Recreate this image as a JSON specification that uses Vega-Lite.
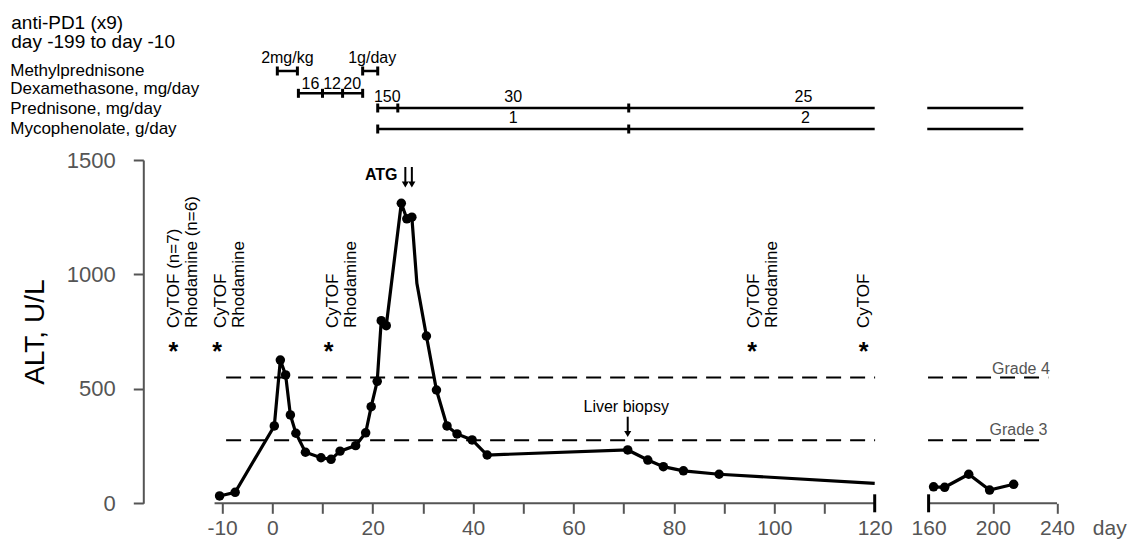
{
  "$schema": "https://vega.github.io/schema/vega-lite/v6.json",
  "width": 920,
  "height": 343.3,
  "autosize": {"type": "none"},
  "padding": {"left": 143.3, "top": 160, "right": 65.7, "bottom": 35.7},
  "background": "white",
  "config": {"view": {"stroke": null}, "font": "Liberation Sans"},
  "datasets": {
    "alt": [
      {"day": -10.5, "alt": 32, "phase": "a", "dot": true},
      {"day": -7.4, "alt": 48, "phase": "a", "dot": true},
      {"day": 0.4, "alt": 338, "phase": "a", "dot": true},
      {"day": 1.6, "alt": 626, "phase": "a", "dot": true},
      {"day": 2.65, "alt": 561, "phase": "a", "dot": true},
      {"day": 3.6, "alt": 386, "phase": "a", "dot": true},
      {"day": 4.7, "alt": 306, "phase": "a", "dot": true},
      {"day": 6.6, "alt": 223, "phase": "a", "dot": true},
      {"day": 9.7, "alt": 199, "phase": "a", "dot": true},
      {"day": 11.7, "alt": 192, "phase": "a", "dot": true},
      {"day": 13.5, "alt": 228, "phase": "a", "dot": true},
      {"day": 16.6, "alt": 252, "phase": "a", "dot": true},
      {"day": 18.6, "alt": 308, "phase": "a", "dot": true},
      {"day": 19.7, "alt": 422, "phase": "a", "dot": true},
      {"day": 20.9, "alt": 533, "phase": "a", "dot": true},
      {"day": 21.7, "alt": 798, "phase": "a", "dot": true},
      {"day": 22.7, "alt": 776, "phase": "a", "dot": true},
      {"day": 25.7, "alt": 1311, "phase": "a", "dot": true},
      {"day": 26.8, "alt": 1243, "phase": "a", "dot": true},
      {"day": 27.8, "alt": 1250, "phase": "a", "dot": true},
      {"day": 28.8, "alt": 961, "phase": "a", "dot": false},
      {"day": 30.7, "alt": 731, "phase": "a", "dot": true},
      {"day": 32.7, "alt": 495, "phase": "a", "dot": true},
      {"day": 34.8, "alt": 338, "phase": "a", "dot": true},
      {"day": 36.8, "alt": 303, "phase": "a", "dot": true},
      {"day": 39.8, "alt": 277, "phase": "a", "dot": true},
      {"day": 42.8, "alt": 211, "phase": "a", "dot": true},
      {"day": 70.8, "alt": 233, "phase": "a", "dot": true},
      {"day": 74.8, "alt": 189, "phase": "a", "dot": true},
      {"day": 77.9, "alt": 160, "phase": "a", "dot": true},
      {"day": 81.9, "alt": 142, "phase": "a", "dot": true},
      {"day": 89.0, "alt": 127, "phase": "a", "dot": true},
      {"day": 120, "alt": 87, "phase": "a", "dot": false},
      {"day": 163.1, "alt": 72, "phase": "b", "dot": true},
      {"day": 170, "alt": 70, "phase": "b", "dot": true},
      {"day": 185, "alt": 127, "phase": "b", "dot": true},
      {"day": 198, "alt": 58, "phase": "b", "dot": true},
      {"day": 213, "alt": 83, "phase": "b", "dot": true}
    ],
    "grades": [
      {"day": -9.2, "day2": 120.3, "alt": 550},
      {"day": 159.6, "day2": 234.6, "alt": 550},
      {"day": -9.2, "day2": 120.3, "alt": 275},
      {"day": 159.6, "day2": 232.7, "alt": 275}
    ],
    "gradeLabels": [
      {"day": 199.5, "alt": 565, "label": "Grade 4"},
      {"day": 198, "alt": 298, "label": "Grade 3"}
    ],
    "axisSegments": [
      {"day": -11.5, "day2": 120, "alt": 0},
      {"day": 160, "day2": 240, "alt": 0}
    ],
    "breaks": [
      {"day": 120, "alt": 0},
      {"day": 160, "alt": 0}
    ],
    "treatments": [
      {"drug": "Methylprednisone", "day": 1, "day2": 5, "alt": 1888.9},
      {"drug": "Methylprednisone", "day": 18, "day2": 21, "alt": 1888.9},
      {"drug": "Dexamethasone", "day": 5.2, "day2": 18, "alt": 1791.4},
      {"drug": "Prednisone", "day": 21, "day2": 120, "alt": 1727.2},
      {"drug": "Prednisone", "day": 159, "day2": 219, "alt": 1727.2},
      {"drug": "Mycophenolate", "day": 21, "day2": 120, "alt": 1635.4},
      {"drug": "Mycophenolate", "day": 159, "day2": 219, "alt": 1635.4}
    ],
    "caps": [
      {"day": 1, "alt": 1888.9}, {"day": 5, "alt": 1888.9},
      {"day": 18, "alt": 1888.9}, {"day": 21, "alt": 1888.9},
      {"day": 5.2, "alt": 1791.4}, {"day": 10, "alt": 1791.4},
      {"day": 14, "alt": 1791.4}, {"day": 18, "alt": 1791.4},
      {"day": 21, "alt": 1727.2}, {"day": 25, "alt": 1727.2}, {"day": 71, "alt": 1727.2},
      {"day": 21, "alt": 1635.4}, {"day": 71, "alt": 1635.4}
    ],
    "doseLabels": [
      {"day": 3.0, "alt": 1923.8, "label": "2mg/kg"},
      {"day": 19.9, "alt": 1923.8, "label": "1g/day"},
      {"day": 7.6, "alt": 1808.9, "label": "16"},
      {"day": 11.9, "alt": 1808.9, "label": "12"},
      {"day": 15.9, "alt": 1808.9, "label": "20"},
      {"day": 22.9, "alt": 1753.4, "label": "150"},
      {"day": 48, "alt": 1753.4, "label": "30"},
      {"day": 105.8, "alt": 1753.4, "label": "25"},
      {"day": 48, "alt": 1661.7, "label": "1"},
      {"day": 106.2, "alt": 1661.7, "label": "2"}
    ],
    "drugNames": [
      {"day": -52.2, "alt": 1867.0, "label": "Methylprednisone"},
      {"day": -52.2, "alt": 1787.1, "label": "Dexamethasone, mg/day"},
      {"day": -52.2, "alt": 1699.7, "label": "Prednisone, mg/day"},
      {"day": -52.2, "alt": 1612.3, "label": "Mycophenolate, g/day"}
    ],
    "header": [
      {"day": -52.0, "alt": 2071.1, "label": "anti-PD1 (x9)"},
      {"day": -52.0, "alt": 1988.0, "label": "day -199 to day -10"}
    ],
    "samples": [
      {"day": -19.7, "alt": 628},
      {"day": -11.0, "alt": 628},
      {"day": 11.2, "alt": 628},
      {"day": 95.6, "alt": 628},
      {"day": 117.8, "alt": 628}
    ],
    "sampleText": [
      {"day": -19.5, "alt": 766, "label": "CyTOF (n=7)\nRhodamine (n=6)"},
      {"day": -10.2, "alt": 766, "label": "CyTOF\nRhodamine"},
      {"day": 12.05, "alt": 766, "label": "CyTOF\nRhodamine"},
      {"day": 96.0, "alt": 766, "label": "CyTOF\nRhodamine"},
      {"day": 117.8, "alt": 766, "label": "CyTOF"}
    ],
    "arrows": [
      {"day": 26.5, "alt": 1469.4, "alt2": 1403.9},
      {"day": 27.8, "alt": 1469.4, "alt2": 1403.9},
      {"day": 70.8, "alt": 378.4, "alt2": 311.5}
    ],
    "arrowHeads": [
      {"day": 26.5, "alt": 1392.9},
      {"day": 27.8, "alt": 1392.9},
      {"day": 70.8, "alt": 302.8}
    ],
    "atg": [{"day": 21.7, "alt": 1412.6, "label": "ATG"}],
    "biopsy": [{"day": 70.5, "alt": 400.2, "label": "Liver biopsy"}]
  },
  "encoding": {
    "x": {
      "field": "day",
      "type": "quantitative",
      "scale": {"domain": [-10, 120, 160, 240], "range": [78.8, 731.4, 785.3, 913.7], "zero": false, "nice": false},
      "axis": {
        "values": [-10, 0, 10, 20, 30, 40, 50, 60, 70, 80, 90, 100, 110, 120, 160, 200, 240],
        "labelExpr": "indexof([-10, 0, 20, 40, 60, 80, 100, 120, 160, 200, 240], datum.value) >= 0 ? toString(datum.value) : ''",
        "domain": false,
        "grid": false,
        "ticks": true,
        "tickColor": "#555555",
        "tickWidth": 2,
        "tickSize": 10,
        "tickOpacity": {"condition": {"test": "datum.value == 120 || datum.value == 160", "value": 0}, "value": 1},
        "labelFontSize": 21,
        "labelColor": "#555555",
        "labelPadding": 4,
        "labelFlush": false,
        "labelOverlap": false,
        "title": "day",
        "titleX": 949,
        "titleY": 14,
        "titleAlign": "left",
        "titleBaseline": "top",
        "titleFontSize": 21,
        "titleFontWeight": "normal",
        "titleColor": "#555555"
      }
    },
    "y": {
      "field": "alt",
      "type": "quantitative",
      "scale": {"domain": [0, 1500], "zero": false, "nice": false},
      "axis": {
        "values": [0, 500, 1000, 1500],
        "format": "d",
        "grid": false,
        "domainColor": "#555555",
        "domainWidth": 2,
        "tickColor": "#555555",
        "tickWidth": 2,
        "tickSize": 10,
        "labelFontSize": 22,
        "labelColor": "#555555",
        "labelPadding": 18,
        "title": "ALT, U/L",
        "titleFontSize": 28,
        "titleFontWeight": "normal",
        "titleColor": "#000000",
        "titlePadding": 17
      }
    }
  },
  "layer": [
    {
      "data": {"name": "grades"},
      "mark": {"type": "rule", "color": "black", "strokeWidth": 2, "strokeDash": [15, 9]},
      "encoding": {"x2": {"field": "day2"}}
    },
    {
      "data": {"name": "axisSegments"},
      "mark": {"type": "rule", "color": "#555555", "strokeWidth": 2},
      "encoding": {"x2": {"field": "day2"}}
    },
    {
      "data": {"name": "breaks"},
      "mark": {"type": "tick", "orient": "vertical", "color": "black", "size": 18, "thickness": 3, "opacity": 1}
    },
    {
      "data": {"name": "treatments"},
      "mark": {"type": "rule", "color": "black", "strokeWidth": 2.5},
      "encoding": {"x2": {"field": "day2"}}
    },
    {
      "data": {"name": "caps"},
      "mark": {"type": "tick", "orient": "vertical", "color": "black", "size": 9, "thickness": 3, "opacity": 1}
    },
    {
      "data": {"name": "alt"},
      "mark": {"type": "line", "color": "black", "strokeWidth": 3.2},
      "encoding": {"detail": {"field": "phase"}}
    },
    {
      "data": {"name": "alt"},
      "transform": [{"filter": "datum.dot"}],
      "mark": {"type": "circle", "color": "black", "size": 90, "opacity": 1}
    },
    {
      "data": {"name": "arrows"},
      "mark": {"type": "rule", "color": "black", "strokeWidth": 2},
      "encoding": {"y2": {"field": "alt2"}}
    },
    {
      "data": {"name": "arrowHeads"},
      "mark": {"type": "point", "shape": "triangle-down", "filled": true, "color": "black", "size": 50, "opacity": 1}
    },
    {
      "data": {"name": "doseLabels"},
      "mark": {"type": "text", "align": "center", "baseline": "alphabetic", "fontSize": 16, "color": "black"},
      "encoding": {"text": {"field": "label"}}
    },
    {
      "data": {"name": "drugNames"},
      "mark": {"type": "text", "align": "left", "baseline": "alphabetic", "fontSize": 17, "color": "black"},
      "encoding": {"text": {"field": "label"}}
    },
    {
      "data": {"name": "header"},
      "mark": {"type": "text", "align": "left", "baseline": "alphabetic", "fontSize": 19, "color": "black"},
      "encoding": {"text": {"field": "label"}}
    },
    {
      "data": {"name": "samples"},
      "mark": {"type": "text", "text": "*", "align": "center", "baseline": "alphabetic", "fontSize": 25, "fontWeight": "bold", "color": "black"}
    },
    {
      "data": {"name": "sampleText"},
      "mark": {"type": "text", "angle": 270, "align": "left", "baseline": "middle", "lineBreak": "\n", "lineHeight": 18, "fontSize": 17, "color": "black"},
      "encoding": {"text": {"field": "label"}}
    },
    {
      "data": {"name": "atg"},
      "mark": {"type": "text", "align": "center", "baseline": "alphabetic", "fontSize": 16, "fontWeight": "bold", "color": "black"},
      "encoding": {"text": {"field": "label"}}
    },
    {
      "data": {"name": "biopsy"},
      "mark": {"type": "text", "align": "center", "baseline": "alphabetic", "fontSize": 16, "color": "black"},
      "encoding": {"text": {"field": "label"}}
    },
    {
      "data": {"name": "gradeLabels"},
      "mark": {"type": "text", "align": "left", "baseline": "alphabetic", "fontSize": 16, "color": "#555555"},
      "encoding": {"text": {"field": "label"}}
    }
  ]
}
